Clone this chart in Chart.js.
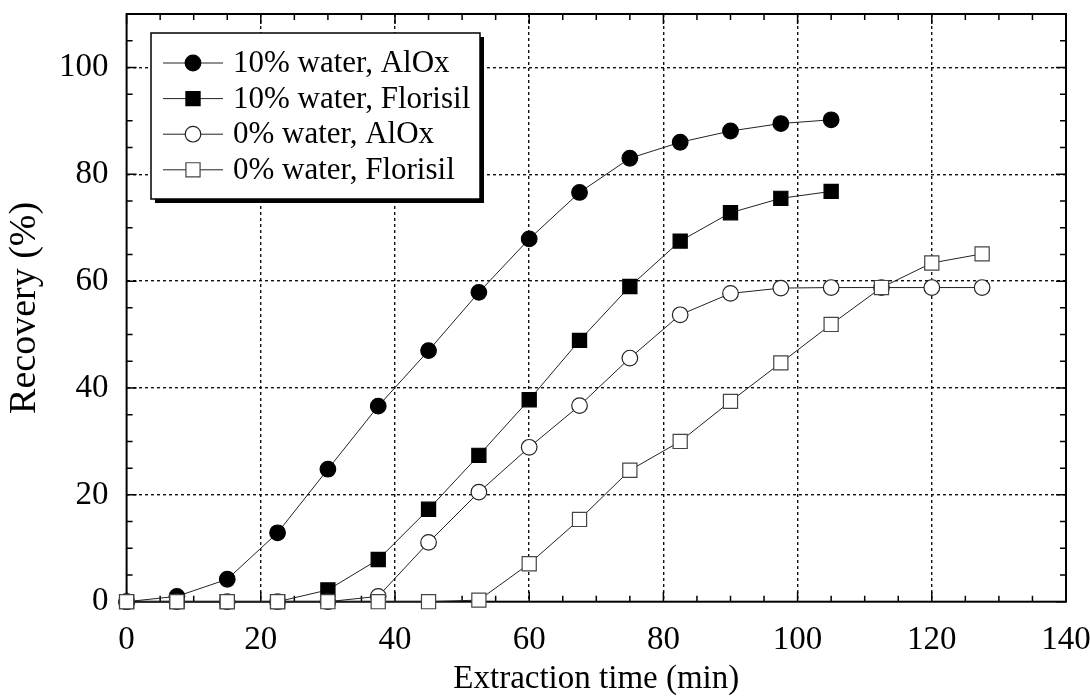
<!DOCTYPE html>
<html lang="en">
<head>
  <meta charset="UTF-8" />
  <title>Recovery vs extraction time</title>
  <style>
    html, body { margin: 0; padding: 0; background: #fff; }
    #wrap { width: 1090px; height: 696px; }
  </style>
  <script src="https://cdn.jsdelivr.net/npm/chart.js"></script>
</head>
<body>

<div id="wrap"><canvas id="recoveryChart" width="1090" height="696"></canvas></div>

<script>
  // extraction times (min), one sample every 7.5 min
  const times = [0, 7.5, 15, 22.5, 30, 37.5, 45, 52.5, 60, 67.5, 75, 82.5, 90, 97.5, 105, 112.5, 120, 127.5];

  const seriesNames = ["10% water, AlOx", "10% water, Florisil", "0% water, AlOx", "0% water, Florisil"];

  // recovery (%)
  const water10AlOx     = [0, 1, 4.2, 12.9, 24.8, 36.6, 47, 57.9, 67.9, 76.6, 83, 86, 88.1, 89.5, 90.2];
  const water10Florisil = [0, 0, 0, 0, 2.2, 7.9, 17.3, 27.4, 37.8, 48.9, 59, 67.5, 72.8, 75.5, 76.8];
  const water0AlOx      = [0, 0, 0, 0, 0, 1, 11.1, 20.5, 28.9, 36.7, 45.6, 53.7, 57.7, 58.7, 58.8, 58.8, 58.8, 58.8];
  const water0Florisil  = [0, 0, 0, 0, 0, 0, 0, 0.3, 7.1, 15.4, 24.6, 30, 37.5, 44.7, 51.9, 58.8, 63.4, 65.1];

  const xTicks = [0, 20, 40, 60, 80, 100, 120, 140];
  const yTicks = [0, 20, 40, 60, 80, 100];

  const FONT = '"Liberation Serif", "Times New Roman", serif';

  function toPoints(values) {
    return values.map((v, i) => ({ x: times[i], y: v }));
  }

  function drawMarker(ctx, style, r, x, y, fill, stroke, bw) {
    ctx.beginPath();
    if (style === 'rect') {
      const h = r * Math.SQRT1_2;
      ctx.rect(x - h, y - h, 2 * h, 2 * h);
    } else {
      ctx.arc(x, y, r, 0, Math.PI * 2);
    }
    ctx.fillStyle = fill;
    ctx.fill();
    ctx.lineWidth = bw;
    ctx.strokeStyle = stroke;
    ctx.stroke();
  }

  // box + inward tick marks on all four sides
  const framePlugin = {
    id: 'frame',
    beforeDatasetsDraw(chart) {
      const { ctx, chartArea: a, scales: { x, y } } = chart;
      ctx.save();
      ctx.strokeStyle = '#000';
      ctx.lineWidth = 1.5;
      ctx.beginPath();
      for (let v = 0; v <= 140; v += 5) {
        const px = x.getPixelForValue(v);
        const len = v % 20 === 0 ? 10 : 6;
        ctx.moveTo(px, a.bottom); ctx.lineTo(px, a.bottom - len);
        ctx.moveTo(px, a.top); ctx.lineTo(px, a.top + len);
      }
      for (let v = 0; v <= 110; v += 5) {
        const py = y.getPixelForValue(v);
        const len = v % 20 === 0 ? 10 : 6;
        ctx.moveTo(a.left, py); ctx.lineTo(a.left + len, py);
        ctx.moveTo(a.right, py); ctx.lineTo(a.right - len, py);
      }
      ctx.stroke();
      ctx.lineWidth = 2;
      ctx.strokeRect(a.left, a.top, a.right - a.left, a.bottom - a.top);
      ctx.restore();
    }
  };

  // boxed legend with drop shadow, upper left
  const legendPlugin = {
    id: 'boxLegend',
    afterDraw(chart) {
      const ctx = chart.ctx;
      const bx = 151, by = 33, bw = 329, bh = 166;
      ctx.save();
      ctx.fillStyle = '#000';
      ctx.fillRect(bx + 4, by + 4, bw, bh);
      ctx.fillStyle = '#fff';
      ctx.fillRect(bx, by, bw, bh);
      ctx.strokeStyle = '#000';
      ctx.lineWidth = 1.5;
      ctx.strokeRect(bx, by, bw, bh);

      ctx.font = '31px ' + FONT;
      ctx.textBaseline = 'middle';
      chart.data.datasets.forEach((ds, i) => {
        const ry = 63 + i * 35.6;
        ctx.strokeStyle = '#222';
        ctx.lineWidth = 1;
        ctx.beginPath();
        ctx.moveTo(163, ry); ctx.lineTo(223, ry);
        ctx.stroke();
        drawMarker(ctx, ds.pointStyle, ds.pointRadius, 193, ry,
          ds.pointBackgroundColor, ds.pointBorderColor, ds.pointBorderWidth);
        ctx.fillStyle = '#000';
        ctx.fillText(ds.label, 233, ry + 1);
      });
      ctx.restore();
    }
  };

  const baseSet = {
    borderColor: '#222',
    borderWidth: 1,
    tension: 0,
    clip: false,
    pointBorderWidth: 1.2
  };

  const ctxRec = document.getElementById('recoveryChart').getContext('2d');
  const recoveryChart = new Chart(ctxRec, {
    type: 'line',
    data: {
      datasets: [
        Object.assign({}, baseSet, {
          label: seriesNames[0], data: toPoints(water10AlOx), order: 4,
          pointStyle: 'circle', pointRadius: 7.8,
          pointBackgroundColor: '#000', pointBorderColor: '#000'
        }),
        Object.assign({}, baseSet, {
          label: seriesNames[1], data: toPoints(water10Florisil), order: 3,
          pointStyle: 'rect', pointRadius: 10,
          pointBackgroundColor: '#000', pointBorderColor: '#000'
        }),
        Object.assign({}, baseSet, {
          label: seriesNames[2], data: toPoints(water0AlOx), order: 2,
          pointStyle: 'circle', pointRadius: 7.8,
          pointBackgroundColor: '#fff', pointBorderColor: '#222'
        }),
        Object.assign({}, baseSet, {
          label: seriesNames[3], data: toPoints(water0Florisil), order: 1,
          pointStyle: 'rect', pointRadius: 10,
          pointBackgroundColor: '#fff', pointBorderColor: '#444'
        })
      ]
    },
    options: {
      responsive: false,
      animation: false,
      layout: { padding: { top: 14, right: 24, left: 0, bottom: 0 } },
      plugins: {
        legend: { display: false },
        tooltip: { enabled: false }
      },
      scales: {
        x: {
          type: 'linear',
          min: 0,
          max: 140,
          afterBuildTicks: s => { s.ticks = xTicks.map(v => ({ value: v })); },
          afterFit: s => { s.height = 94.3; s.paddingLeft = 0; s.paddingRight = 0; },
          ticks: { color: '#000', padding: 19, maxRotation: 0, font: { family: FONT, size: 33 } },
          grid: {
            drawTicks: false,
            lineWidth: 1.4,
            color: c => (c.tick && (c.tick.value === 0 || c.tick.value === 140)) ? 'rgba(0,0,0,0)' : '#111'
          },
          border: { display: false, dash: [3, 3] },
          title: {
            display: true,
            text: 'Extraction time (min)',
            color: '#000',
            font: { family: FONT, size: 33, lineHeight: 1 },
            padding: { top: 0, bottom: 0 }
          }
        },
        y: {
          type: 'linear',
          min: 0,
          max: 110,
          afterBuildTicks: s => { s.ticks = yTicks.map(v => ({ value: v })); },
          afterFit: s => { s.width = 126.6; s.paddingTop = 0; s.paddingBottom = 0; },
          ticks: { color: '#000', padding: 18, font: { family: FONT, size: 33 } },
          grid: {
            drawTicks: false,
            lineWidth: 1.4,
            color: c => (c.tick && c.tick.value === 0) ? 'rgba(0,0,0,0)' : '#111'
          },
          border: { display: false, dash: [3, 3] },
          title: {
            display: true,
            text: 'Recovery (%)',
            color: '#000',
            font: { family: FONT, size: 38, lineHeight: 1 },
            padding: { top: 6, bottom: 0 }
          }
        }
      }
    },
    plugins: [framePlugin, legendPlugin]
  });
</script>

</body>
</html>
